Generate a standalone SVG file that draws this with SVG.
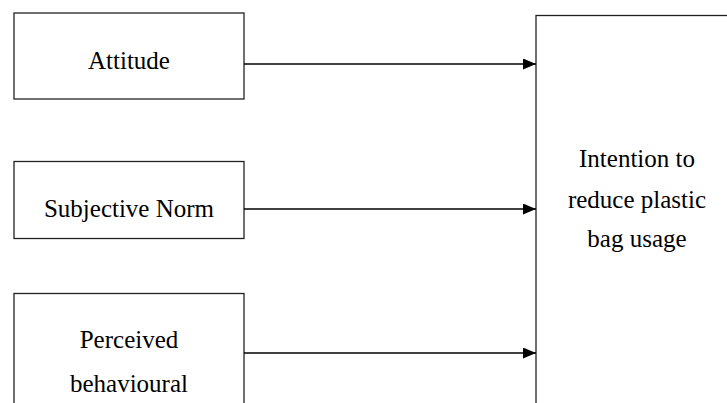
<svg xmlns="http://www.w3.org/2000/svg" width="727" height="403" viewBox="0 0 727 403">
<defs>
<marker id="ah" markerWidth="13" markerHeight="11" refX="13" refY="5.5" orient="auto" markerUnits="userSpaceOnUse">
<path d="M0,0 L13,5.5 L0,11 Z" fill="#000"/>
</marker>
<style>
.box{fill:#fff;stroke:#222;stroke-width:1.3}
.t{font-family:'Liberation Serif','Times New Roman',serif;font-size:25px;fill:#000;text-anchor:middle}
.c{stroke:#000;stroke-width:1.3;fill:none}
</style>
</defs>
<rect width="727" height="403" fill="#fff"/>
<g id="attitude">
<rect class="box" x="14" y="13" width="230" height="86"/>
<text class="t" x="129" y="69">Attitude</text>
</g>
<g id="subjective-norm">
<rect class="box" x="14" y="161.5" width="230" height="77"/>
<text class="t" x="129" y="216.5">Subjective Norm</text>
</g>
<g id="pbc">
<rect class="box" x="14" y="293.5" width="230" height="130"/>
<text class="t" x="129" y="348">Perceived</text>
<text class="t" x="129" y="391.5">behavioural</text>
</g>
<g id="intention">
<rect class="box" x="536" y="15.5" width="220" height="420"/>
<text class="t" x="637" y="167">Intention to</text>
<text class="t" x="637" y="208">reduce plastic</text>
<text class="t" x="637" y="246.5">bag usage</text>
</g>
<g id="connectors">
<line class="c" x1="244" y1="64" x2="536" y2="64" marker-end="url(#ah)"/>
<line class="c" x1="244" y1="209" x2="536" y2="209" marker-end="url(#ah)"/>
<line class="c" x1="244" y1="353" x2="536" y2="353" marker-end="url(#ah)"/>
</g>
</svg>
